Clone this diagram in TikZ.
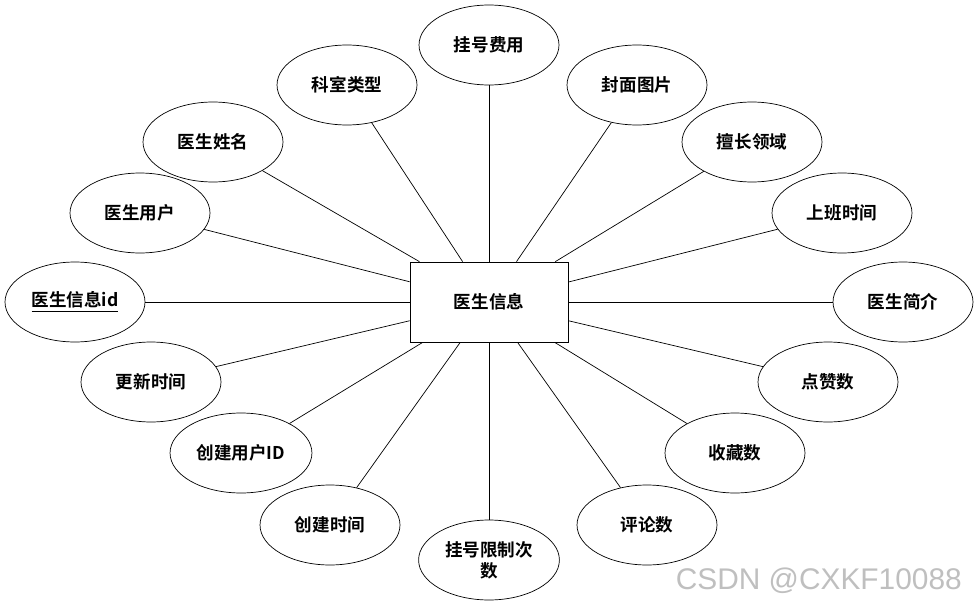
\documentclass[tikz,border=0pt]{standalone}
\usepackage{fontspec}
\setmainfont{Liberation Sans}
\newfontfamily\cjk{Noto Sans CJK SC}[BoldFont={* Bold}]
\usetikzlibrary{shapes,positioning}
\tikzset{
  attr/.style={ellipse, draw, fill=white, minimum width=2.8cm, minimum height=1.6cm, font=\cjk\bfseries\fontsize{10}{12}\selectfont, align=center},
  ent/.style={rectangle, draw, fill=white, minimum width=3.16cm, minimum height=1.6cm, font=\cjk\bfseries\fontsize{10}{12}\selectfont}
}
\begin{document}
\begin{tikzpicture}[x=0.02cm, y=-0.02cm]
    \useasboundingbox (0,0) rectangle (978,602);
    % Attributes
    \node[attr] (fee) at (489,45) {挂号费用};
    \node[attr] (dept) at (347,85) {科室类型};
    \node[attr] (cover) at (637,85) {封面图片};
    \node[attr] (name) at (213,142) {医生姓名};
    \node[attr] (field) at (752,142) {擅长领域};
    \node[attr] (user) at (140,213) {医生用户};
    \node[attr] (work) at (842,213) {上班时间};
    \node[attr] (id) at (75,302) {\underline{医生信息id}};
    \node[attr] (intro) at (903,302) {医生简介};
    \node[attr] (upd) at (151,382) {更新时间};
    \node[attr] (like) at (828,382) {点赞数};
    \node[attr] (cuser) at (241,453) {创建用户ID};
    \node[attr] (fav) at (735,453) {收藏数};
    \node[attr] (ctime) at (330,525) {创建时间};
    \node[attr] (limit) at (489,560) {挂号限制次\\数};
    \node[attr] (comm) at (647,525) {评论数};

    % Entity
    \node[ent] (doc) at (489,302) {医生信息};

    % Connectors
    \foreach \a in {fee,dept,cover,name,field,user,work,id,intro,upd,like,cuser,fav,ctime,limit,comm}
        \draw (doc) -- (\a);

    \node[text=gray!50, font=\fontsize{17}{20}\selectfont, anchor=south east] (mark) at (968,600) {CSDN @CXKF10088};
\end{tikzpicture}
\end{document}
